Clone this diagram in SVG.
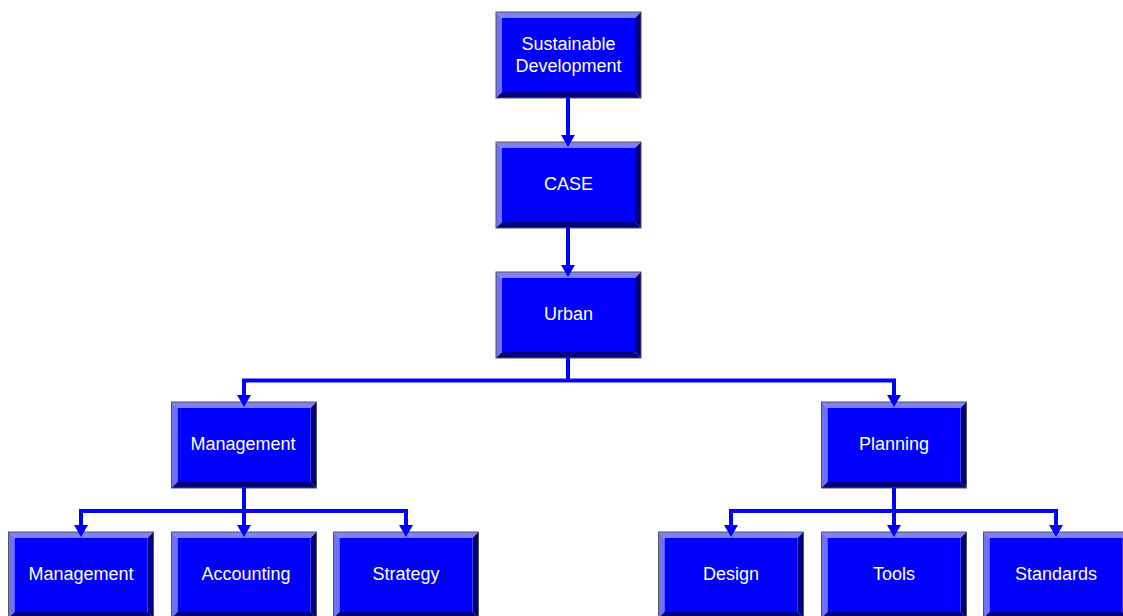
<svg xmlns="http://www.w3.org/2000/svg" width="1123" height="616" viewBox="0 0 1123 616">
<defs>
<style>
.face{fill:#0000FF}
.lt{fill:#8080FF}
.lf{fill:#7070F8}
.dk{fill:#000080}
.ol{fill:none;stroke:#555;stroke-width:1}
.lbl{font-family:"Liberation Sans",Arial,sans-serif;font-size:18px;fill:#FFFFFF;text-anchor:middle}
.con{fill:none;stroke:#0000FF;stroke-width:4}
.ah{fill:#0000FF}
</style>
<g id="box">
<polygon class="lt" points="0,0 145,0 139,6 6,6"/>
<polygon class="lf" points="0,0 6,6 6,80 0,86"/>
<polygon class="dk" points="145,0 145,86 139,80 139,6"/>
<polygon class="dk" points="0,86 6,80 139,80 145,86"/>
<rect class="face" x="6" y="6" width="133" height="74"/>
<rect class="ol" x="0" y="0" width="145" height="86"/>
</g>
<path id="arr" d="M-7,-12 L7,-12 L0,0 Z"/>
</defs>
<rect width="1123" height="616" fill="#FFFFFF"/>
<g id="n-sustainable"><use href="#box" x="496" y="12"/><text class="lbl" x="568.5" y="50">Sustainable</text><text class="lbl" x="568.5" y="72">Development</text></g>
<g id="n-case"><use href="#box" x="496" y="142"/><text class="lbl" x="568.5" y="190">CASE</text></g>
<g id="n-urban"><use href="#box" x="496" y="272"/><text class="lbl" x="568.5" y="320">Urban</text></g>
<g id="n-management"><use href="#box" x="171.5" y="402"/><text class="lbl" x="243" y="450">Management</text></g>
<g id="n-planning"><use href="#box" x="821.5" y="402"/><text class="lbl" x="894" y="450">Planning</text></g>
<g id="n-management2"><use href="#box" x="8.5" y="532"/><text class="lbl" x="81" y="580">Management</text></g>
<g id="n-accounting"><use href="#box" x="171.5" y="532"/><text class="lbl" x="246" y="580">Accounting</text></g>
<g id="n-strategy"><use href="#box" x="333.5" y="532"/><text class="lbl" x="406" y="580">Strategy</text></g>
<g id="n-design"><use href="#box" x="658.5" y="532"/><text class="lbl" x="731" y="580">Design</text></g>
<g id="n-tools"><use href="#box" x="821.5" y="532"/><text class="lbl" x="894" y="580">Tools</text></g>
<g id="n-standards"><use href="#box" x="983.5" y="532"/><text class="lbl" x="1056" y="580">Standards</text></g>
<g id="connectors">
<path class="con" d="M568,98 V136"/>
<path class="con" d="M568,228 V266"/>
<path class="con" d="M568,358 V380.5 M242,380.5 H896 M244,380.5 V396 M894,380.5 V396"/>
<path class="con" d="M244,488 V511 M79,511 H408 M81,511 V526 M244,511 V526 M406,511 V526"/>
<path class="con" d="M894,488 V511 M729,511 H1058 M731,511 V526 M894,511 V526 M1056,511 V526"/>
<g class="ah">
<use href="#arr" x="568" y="147"/>
<use href="#arr" x="568" y="277"/>
<use href="#arr" x="244" y="407"/>
<use href="#arr" x="894" y="407"/>
<use href="#arr" x="81" y="537"/>
<use href="#arr" x="244" y="537"/>
<use href="#arr" x="406" y="537"/>
<use href="#arr" x="731" y="537"/>
<use href="#arr" x="894" y="537"/>
<use href="#arr" x="1056" y="537"/>
</g>
</g>
</svg>
